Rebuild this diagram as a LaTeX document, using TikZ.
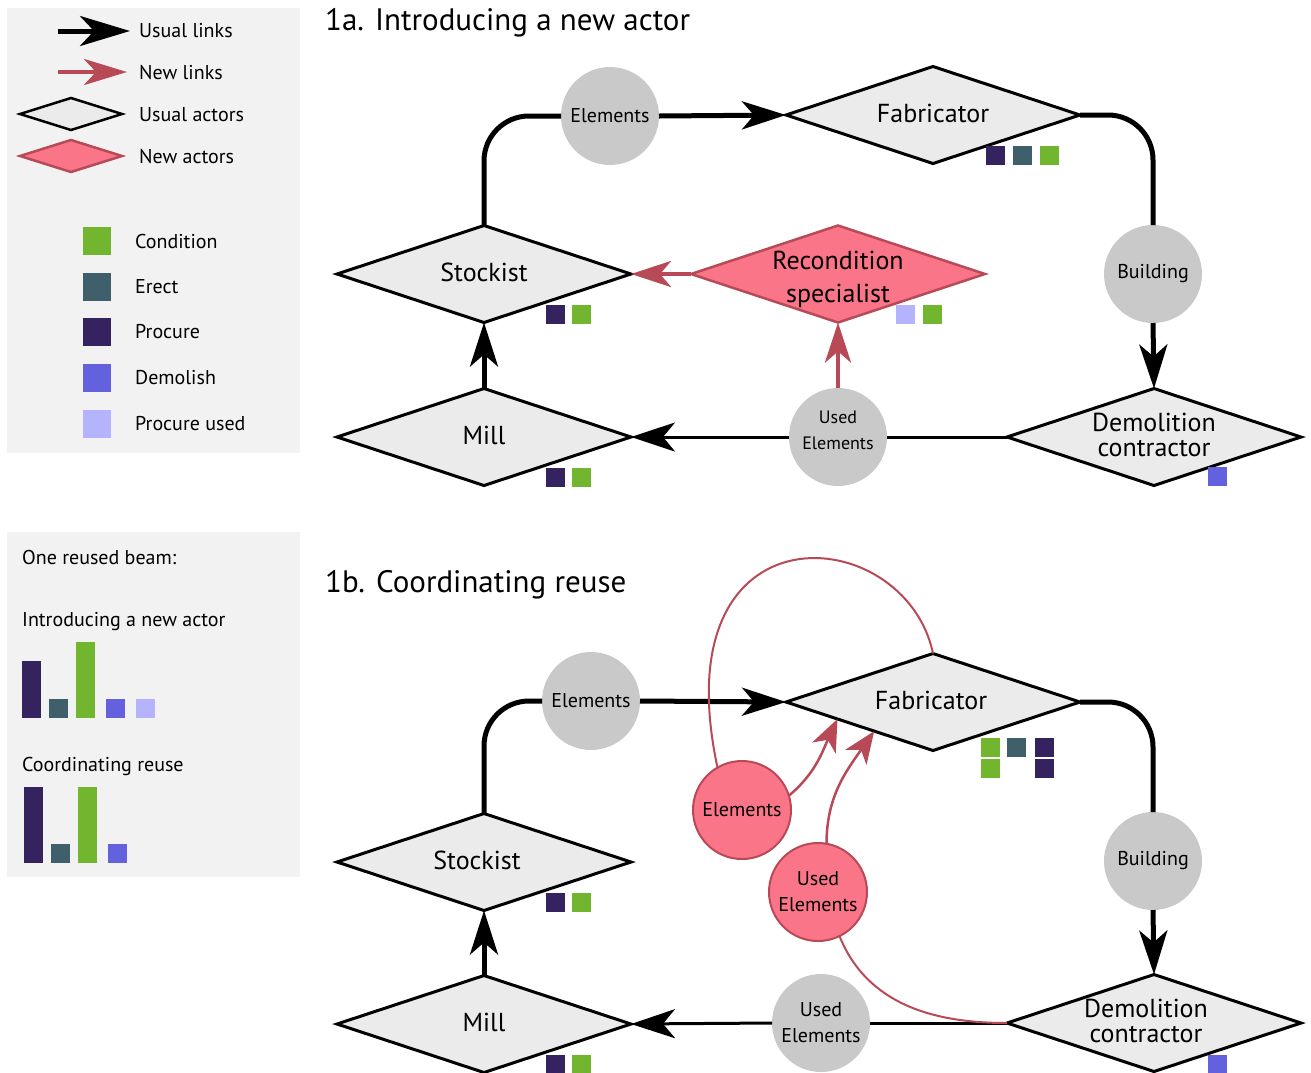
\documentclass[tikz,border=0pt]{standalone}
\usepackage{fontspec}
\setmainfont{PT Sans}
\usetikzlibrary{shapes.geometric,arrows.meta,calc}

\definecolor{legendbg}{HTML}{F2F2F2}
\definecolor{actorfill}{HTML}{EBEBEB}
\definecolor{flowgray}{HTML}{C9C9C9}
\definecolor{newred}{HTML}{B84A57}
\definecolor{newpink}{HTML}{FB7589}
\definecolor{condition}{HTML}{72B62F}
\definecolor{erect}{HTML}{3F5F6A}
\definecolor{procure}{HTML}{35235F}
\definecolor{demolish}{HTML}{6461DF}
\definecolor{procureused}{HTML}{B4B3FC}

\tikzset{
	actor/.style={diamond, draw=black, line width=3pt, fill=actorfill, minimum width=294pt, minimum height=97pt, inner sep=0pt, outer sep=0pt},
	newactor/.style={actor, draw=newred, line width=2.5pt, fill=newpink},
	acttext/.style={font=\fontsize{26}{25}\selectfont, align=center, yshift=2pt},
	flow/.style={circle, fill=flowgray, minimum size=98pt, inner sep=0pt, outer sep=0pt, align=center, font=\fontsize{20}{26}\selectfont},
	newflow/.style={flow, fill=newpink, draw=newred, line width=2pt},
	keytext/.style={anchor=west, inner sep=0pt, font=\fontsize{20}{20}\selectfont},
	title/.style={anchor=base west, inner sep=0pt, font=\fontsize{31}{31}\selectfont},
	thick line/.style={line width=5pt},
	thin line/.style={line width=3pt},
	usual/.style={thick line, -{Stealth[length=44pt, width=28pt, inset=12pt]}},
	thin usual/.style={thin line, -{Stealth[length=44pt, width=29pt, inset=12pt]}},
	newlink/.style={draw=newred, line width=4.5pt, -{Stealth[length=40pt, width=26pt, inset=11pt]}},
	newcurve/.style={draw=newred, line width=2pt},
	newbent/.style={draw=newred, line width=2.5pt, -{Stealth[length=32pt, width=26pt, inset=9pt]}},
}

\begin{document}
\begin{tikzpicture}[x=1pt, y=-1pt]
	\useasboundingbox (0,0) rectangle (1311,1072);

	% legends
	\fill[legendbg] (7,8) rectangle (300,453);
	\fill[legendbg] (7,532) rectangle (300,877);
	\draw[thick line, -{Stealth[length=50pt, width=30pt, inset=14pt]}] (58,31) -- (130,31);
	\draw[newlink, -{Stealth[length=43pt, width=26pt, inset=12pt]}] (58,72) -- (127,72);
	\node[actor, minimum width=102pt, minimum height=32pt, line width=2.5pt] (keyactor) at (71,114) {};
	\node[newactor, minimum width=102pt, minimum height=32pt] (keynew) at (71,156) {};
	\node[keytext] at (139,31) {Usual links};
	\node[keytext] at (139,73) {New links};
	\node[keytext] at (139,115) {Usual actors};
	\node[keytext] at (139,157) {New actors};
	\foreach \c/\y/\t in {condition/241/Condition, erect/287/Erect, procure/332/Procure, demolish/378/Demolish, procureused/424/Procure used}{
		\fill[\c] (83,\y-14) rectangle ++(28,28);
		\node[keytext] at (135,\y) {\t};
	}
	\node[keytext] at (22,557) {One reused beam:};
	\node[keytext] at (22,622) {Introducing a new actor};
	\node[keytext] at (22,766) {Coordinating reuse};
	\foreach \c/\x/\h in {procure/22/57, erect/49/19, condition/76/76, demolish/106/19, procureused/136/19}
		\fill[\c] (\x,718) rectangle ++(19,-\h);
	\foreach \c/\x/\h in {procure/24/76, erect/51/19, condition/78/76, demolish/108/19}
		\fill[\c] (\x,863) rectangle ++(19,-\h);

	% 1a
	\node[title] at (325,30) {1a. Introducing a new actor};
	\node[actor, label={[acttext]center:Stockist}] (stk1) at (484,274) {};
	\node[actor, label={[acttext]center:Fabricator}] (fab1) at (933,115) {};
	\node[actor, label={[acttext]center:Mill}] (mil1) at (484,437) {};
	\node[actor, label={[acttext]center:Demolition\\contractor}] (dem1) at (1154,437) {};
	\node[newactor, label={[acttext, yshift=-7pt, font=\fontsize{26}{33}\selectfont]center:Recondition\\specialist}] (rec1) at (838,274) {};
	\node[flow] (ele1) at (610,116) {Elements};
	\node[flow] (bld1) at (1153,274) {Building};
	\node[flow, font=\fontsize{18}{26}\selectfont, text depth=14pt] (use1) at (838,437) {Used\\Elements};

	\draw[thick line, rounded corners=45pt] (stk1.north) |- (ele1.west);
	\draw[usual] (ele1.east) -- (fab1.west);
	\draw[thick line, rounded corners=45pt] (fab1.east) -| (bld1.north);
	\draw[usual] (bld1.south) -- (dem1.north);
	\draw[thin line] (dem1.west) -- (use1.east);
	\draw[thin usual] (use1.west) -- (mil1.east);
	\draw[usual] (mil1.north) -- (stk1.south);
	\draw[newlink] (use1.north) -- (rec1.south);
	\draw[newlink] (rec1.west) -- (stk1.east);

	\foreach \c/\x/\y in {procure/546/305, condition/572/305, procure/986/146, erect/1013/146, condition/1040/146, procureused/896/305, condition/923/305, procure/546/468, condition/572/468, demolish/1208/467}
		\fill[\c] (\x,\y) rectangle ++(19,19);

	% 1b
	\node[title] at (325,592) {1b. Coordinating reuse};
	\node[actor, label={[acttext, xshift=-7pt]center:Stockist}] (stk2) at (484,862) {};
	\node[actor, label={[acttext, xshift=-2pt]center:Fabricator}] (fab2) at (933,702) {};
	\node[actor, label={[acttext]center:Mill}] (mil2) at (484,1024) {};
	\node[actor, label={[acttext, xshift=-8pt]center:Demolition\\contractor}] (dem2) at (1154,1023) {};
	\node[flow] (ele2) at (591,701) {Elements};
	\node[flow] (bld2) at (1153,861) {Building};
	\node[flow] (use2) at (821,1023) {Used\\Elements};
	\node[newflow] (ele2r) at (742,810) {Elements};
	\node[newflow] (use2r) at (818,892) {Used\\Elements};
	\coordinate (tipA) at ($(fab2.west)!0.35!(fab2.south)$);
	\coordinate (tipB) at ($(fab2.west)!0.6!(fab2.south)$);

	\draw[thick line, rounded corners=45pt] (stk2.north) |- (ele2.west);
	\draw[usual] (ele2.east) -- (fab2.west);
	\draw[thick line, rounded corners=45pt] (fab2.east) -| (bld2.north);
	\draw[usual] (bld2.south) -- (dem2.north);
	\draw[thin line] (dem2.west) -- (use2.east);
	\draw[thin usual] (use2.west) -- (mil2.east);
	\draw[usual] (mil2.north) -- (stk2.south);
	\draw[newcurve] (fab2.north) .. controls (905,520) and (660,500) .. (ele2r.120);
	\draw[newcurve] (use2r.-64) to[out=-68, in=180] (dem2.west);
	\draw[newbent] (ele2r.17) to[out=40, in=-115] (tipA);
	\draw[newbent] (use2r.80) to[out=90, in=-125] (tipB);

	\foreach \c/\x/\y in {procure/546/893, condition/572/893, condition/981/738, erect/1007/738, procure/1035/738, condition/981/759, procure/1035/759, procure/546/1055, condition/572/1055, demolish/1208/1055}
		\fill[\c] (\x,\y) rectangle ++(19,19);
\end{tikzpicture}
\end{document}
